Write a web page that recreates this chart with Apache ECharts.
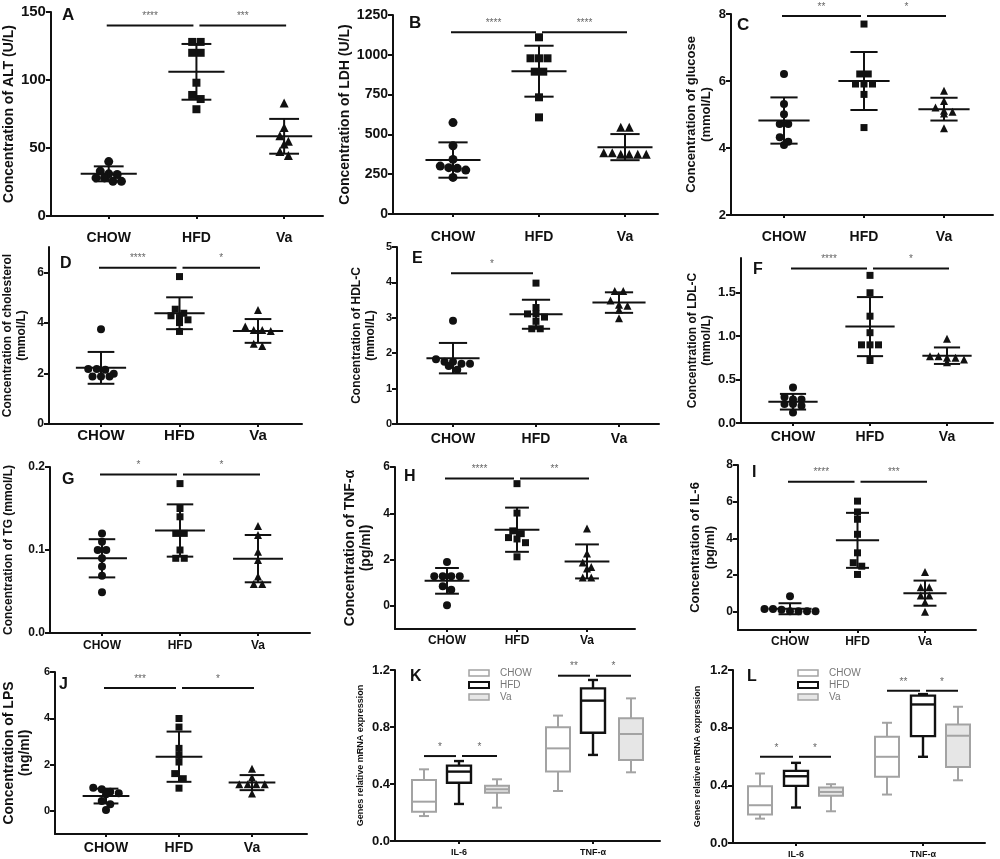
<!DOCTYPE html>
<html>
<head>
<meta charset="utf-8">
<script src="https://cdn.jsdelivr.net/npm/echarts@6/dist/echarts.min.js"></script>
<style>
html, body { margin: 0; padding: 0; background: #fff; }
#main { width: 1000px; height: 859px; }
</style>
</head>
<body>
<div id="main"></div>
<script>
var groups = ['CHOW', 'HFD', 'Va'];
var genes = ['IL-6', 'TNF-α'];

// A - ALT (U/L)
var altChow = [40, 30.5, 28, 33, 31, 25.5, 25.5, 28];
var altHfd = [128, 128, 120, 120, 98, 89, 86, 78.5];
var altVa = [83, 65, 59, 55, 53, 47.5, 44.5];
var altMean = [31, 106, 58.6];
var altSd = [5.5, 20.5, 12.8];
var altSig = [[0, 1, 140, '****'], [1, 2, 140, '***']];

// B - LDH (U/L)
var ldhChow = [574, 429, 343, 301, 287, 291, 276, 230];
var ldhHfd = [1110, 978, 978, 978, 894, 894, 733, 607];
var ldhVa = [545, 545, 385, 375, 375, 375, 375, 385];
var ldhMean = [339, 897, 420];
var ldhSd = [111, 160, 82];
var ldhSig = [[0, 1, 1141, '****'], [1, 2, 1141, '****']];

// C - glucose
var gluChow = [6.21, 5.31, 5.01, 4.72, 4.72, 4.32, 4.09, 4.19];
var gluHfd = [7.70, 6.21, 6.21, 5.91, 5.91, 5.91, 5.60, 4.61];
var gluVa = [5.71, 5.40, 5.21, 5.11, 5.03, 5.08, 4.59];
var gluMean = [4.82, 6.0, 5.16];
var gluSd = [0.69, 0.865, 0.34];
var gluSig = [[0, 1, 7.94, '**'], [1, 2, 7.94, '*']];

// D - cholesterol
var cholChow = [3.75, 2.15, 2.18, 2.18, 1.88, 1.88, 1.88, 1.99];
var cholHfd = [5.83, 4.54, 4.38, 4.28, 4.21, 4.12, 4.01, 3.66];
var cholVa = [4.51, 3.86, 3.72, 3.68, 3.72, 3.08, 3.17];
var cholMean = [2.22, 4.38, 3.68];
var cholSd = [0.63, 0.63, 0.47];
var cholSig = [[0, 1, 6.18, '****'], [1, 2, 6.18, '*']];

// E - HDL-C
var hdlChow = [2.92, 1.76, 1.70, 1.83, 1.53, 1.64, 1.70, 1.76];
var hdlHfd = [3.98, 3.29, 3.11, 3.11, 2.90, 3.02, 2.69, 2.69];
var hdlVa = [3.76, 3.76, 3.49, 3.37, 3.34, 3.23, 2.99];
var hdlMean = [1.86, 3.10, 3.43];
var hdlSd = [0.43, 0.41, 0.29];
var hdlSig = [[0, 1, 4.26, '*']];

// F - LDL-C
var ldlChow = [0.41, 0.30, 0.27, 0.27, 0.22, 0.22, 0.20, 0.12];
var ldlHfd = [1.70, 1.50, 1.23, 1.04, 0.90, 0.90, 0.90, 0.72];
var ldlVa = [0.97, 0.77, 0.75, 0.77, 0.73, 0.75, 0.70];
var ldlMean = [0.245, 1.11, 0.775];
var ldlSd = [0.09, 0.34, 0.095];
var ldlSig = [[0, 1, 1.78, '****'], [1, 2, 1.78, '*']];

// G - TG
var tgChow = [0.120, 0.110, 0.100, 0.100, 0.090, 0.080, 0.069, 0.049];
var tgHfd = [0.180, 0.150, 0.140, 0.120, 0.120, 0.100, 0.090, 0.090];
var tgVa = [0.129, 0.118, 0.098, 0.088, 0.068, 0.059, 0.059];
var tgMean = [0.090, 0.1235, 0.0896];
var tgSd = [0.023, 0.0315, 0.0285];
var tgSig = [[0, 1, 0.191, '*'], [1, 2, 0.191, '*']];

// H - TNF-a
var tnfChow = [1.90, 1.28, 1.28, 1.28, 1.28, 0.85, 0.70, 0.03];
var tnfHfd = [5.28, 4.01, 3.24, 3.12, 2.95, 2.89, 2.73, 2.12];
var tnfVa = [3.34, 2.26, 1.87, 1.68, 1.61, 1.22, 1.22];
var tnfMean = [1.08, 3.29, 1.92];
var tnfSd = [0.555, 0.955, 0.735];
var tnfSig = [[0, 1, 5.5, '****'], [1, 2, 5.5, '**']];

// I - IL-6
var il6Chow = [0.84, 0.15, 0.02, 0.02, 0.02, 0.02, 0.15, 0.11];
var il6Hfd = [6.03, 5.44, 5.04, 4.22, 3.21, 2.67, 2.48, 2.03];
var il6Va = [2.16, 1.33, 1.33, 0.88, 0.88, 0.51, 0.0];
var il6Mean = [0.16, 3.89, 1.01];
var il6Sd = [0.30, 1.50, 0.685];
var il6Sig = [[0, 1, 7.09, '****'], [1, 2, 7.09, '***']];

// J - LPS
var lpsChow = [1.00, 0.93, 0.83, 0.72, 0.76, 0.43, 0.29, 0.04];
var lpsHfd = [3.99, 3.62, 2.70, 2.40, 2.11, 1.61, 1.39, 0.98];
var lpsVa = [1.82, 1.44, 1.15, 1.15, 1.15, 1.15, 0.75];
var lpsMean = [0.64, 2.34, 1.22];
var lpsSd = [0.32, 1.085, 0.325];
var lpsSig = [[0, 1, 5.31, '***'], [1, 2, 5.31, '*']];

// K / L - mRNA boxes: [min, q1, median, q3, max] for IL-6, TNF-a
var kChow = [[0.175, 0.206, 0.276, 0.428, 0.503], [0.351, 0.487, 0.650, 0.798, 0.880]];
var kHfd = [[0.260, 0.409, 0.487, 0.529, 0.561], [0.604, 0.760, 0.985, 1.071, 1.130]];
var kVa = [[0.234, 0.339, 0.363, 0.388, 0.433], [0.482, 0.568, 0.751, 0.861, 1.001]];
var kSig = [[0, 0, 1, 0.596, '*'], [0, 1, 2, 0.596, '*'], [1, 0, 1, 1.16, '**'], [1, 1, 2, 1.16, '*']];
var lChow = [[0.169, 0.197, 0.262, 0.394, 0.482], [0.336, 0.459, 0.598, 0.737, 0.834]];
var lHfd = [[0.246, 0.396, 0.463, 0.500, 0.556], [0.598, 0.741, 0.961, 1.022, 1.033]];
var lVa = [[0.220, 0.327, 0.354, 0.385, 0.408], [0.435, 0.528, 0.744, 0.822, 0.945]];
var lSig = [[0, 0, 1, 0.598, '*'], [0, 1, 2, 0.598, '*'], [1, 0, 1, 1.056, '**'], [1, 1, 2, 1.056, '*']];

var FONT = '"Liberation Sans", Arial, sans-serif';
var INK = '#111';

// layout of each dot-plot panel: box = [left, top, right, bottom] in px
var panels = [
    {id: 'A', pts: [altChow, altHfd, altVa], mean: altMean, sd: altSd, sig: altSig,
        name: 'Concentration of ALT (U/L)', box: [50, 12, 323, 216], cat0: 108, spacing: 88,
        y: [0, 150], ticks: [0, 50, 100, 150], dec: 0, tickFont: 15, catFont: 14, catMargin: 15,
        nameFont: 14, nameGap: 30, sym: 9, letter: [62, 7, 17]},
    {id: 'B', pts: [ldhChow, ldhHfd, ldhVa], mean: ldhMean, sd: ldhSd, sig: ldhSig,
        name: 'Concentration of LDH (U/L)', box: [393, 15, 658, 214], cat0: 453, spacing: 86,
        y: [0, 1250], ticks: [0, 250, 500, 750, 1000, 1250], dec: 0, tickFont: 14, catFont: 14, catMargin: 16,
        nameFont: 14, nameGap: 40, sym: 9, letter: [409, 15, 17]},
    {id: 'C', pts: [gluChow, gluHfd, gluVa], mean: gluMean, sd: gluSd, sig: gluSig,
        name: 'Concentration of glucose\n(mmol/L)', box: [731, 14, 993, 215], cat0: 784, spacing: 80,
        y: [2, 8], ticks: [2, 4, 6, 8], dec: 0, tickFont: 13, catFont: 14, catMargin: 15,
        nameFont: 13, nameGap: 17, sym: 8, letter: [737, 17, 17]},
    {id: 'D', pts: [cholChow, cholHfd, cholVa], mean: cholMean, sd: cholSd, sig: cholSig,
        name: 'Concentration of cholesterol\n(mmol/L)', box: [49, 247, 302, 424], cat0: 101, spacing: 78.5,
        y: [0, 7], ticks: [0, 2, 4, 6], dec: 0, tickFont: 12, catFont: 15, catMargin: 4,
        nameFont: 12, nameGap: 20, sym: 8, letter: [60, 256, 16]},
    {id: 'E', pts: [hdlChow, hdlHfd, hdlVa], mean: hdlMean, sd: hdlSd, sig: hdlSig,
        name: 'Concentration of HDL-C\n(mmol/L)', box: [397, 247, 659, 424], cat0: 453, spacing: 83,
        y: [0, 5], ticks: [0, 1, 2, 3, 4, 5], dec: 0, tickFont: 11, catFont: 14, catMargin: 8,
        nameFont: 12, nameGap: 19, sym: 8, letter: [412, 251, 16]},
    {id: 'F', pts: [ldlChow, ldlHfd, ldlVa], mean: ldlMean, sd: ldlSd, sig: ldlSig,
        name: 'Concentration of LDL-C\n(mmol/L)', box: [741, 258, 993, 423], cat0: 793, spacing: 77,
        y: [0, 1.9], ticks: [0, 0.5, 1, 1.5], dec: 1, tickFont: 13, catFont: 14, catMargin: 7,
        nameFont: 12, nameGap: 27, sym: 8, letter: [753, 262, 16]},
    {id: 'G', pts: [tgChow, tgHfd, tgVa], mean: tgMean, sd: tgSd, sig: tgSig,
        name: 'Concentration of TG (mmol/L)', box: [50, 467, 310, 633], cat0: 102, spacing: 78,
        y: [0, 0.2], ticks: [0, 0.1, 0.2], dec: 1, tickFont: 12, catFont: 12, catMargin: 7,
        nameFont: 12, nameGap: 34, sym: 8, letter: [62, 472, 16]},
    {id: 'H', pts: [tnfChow, tnfHfd, tnfVa], mean: tnfMean, sd: tnfSd, sig: tnfSig,
        name: 'Concentration of TNF-α\n(pg/ml)', box: [395, 467, 635, 629], cat0: 447, spacing: 70,
        y: [-1, 6], ticks: [0, 2, 4, 6], dec: 0, tickFont: 12, catFont: 12, catMargin: 6,
        nameFont: 14, nameGap: 21, sym: 8, letter: [404, 469, 16]},
    {id: 'I', pts: [il6Chow, il6Hfd, il6Va], mean: il6Mean, sd: il6Sd, sig: il6Sig,
        name: 'Concentration of IL-6\n(pg/ml)', box: [738, 465, 976, 630], cat0: 790, spacing: 67.5,
        y: [-1, 8], ticks: [0, 2, 4, 6, 8], dec: 0, tickFont: 12, catFont: 12, catMargin: 6,
        nameFont: 13, nameGap: 20, sym: 8, letter: [752, 465, 16]},
    {id: 'J', pts: [lpsChow, lpsHfd, lpsVa], mean: lpsMean, sd: lpsSd, sig: lpsSig,
        name: 'Concentration of LPS\n(ng/ml)', box: [55, 672, 307, 834], cat0: 106, spacing: 73,
        y: [-1, 6], ticks: [0, 2, 4, 6], dec: 0, tickFont: 11, catFont: 14, catMargin: 7,
        nameFont: 14, nameGap: 22, sym: 8, letter: [59, 677, 16]}
];

var boxPanels = [
    {id: 'K', boxes: [kChow, kHfd, kVa], sig: kSig, box: [395, 670, 660, 841], cat0: 459, spacing: 134,
        offs: [-35, 0, 38], legend: [468, 668], nameGap: 29, letter: [410, 669, 16]},
    {id: 'L', boxes: [lChow, lHfd, lVa], sig: lSig, box: [733, 670, 985, 843], cat0: 796, spacing: 127,
        offs: [-36, 0, 35], legend: [797, 668], nameGap: 30, letter: [747, 669, 16]}
];

var boxStyles = [
    {fill: '#fff', stroke: '#a3a3a3', lw: 2},
    {fill: '#fff', stroke: '#111', lw: 2.4},
    {fill: '#e6e6e6', stroke: '#a3a3a3', lw: 2}
];

var shapes = ['circle', 'rect', 'triangle'];
var grids = [], xAxes = [], yAxes = [], series = [], titles = [], legends = [];

// spread points that share nearly the same value side by side (like a dot plot)
function swarm(vals, gi, thr, step) {
    var s = vals.slice().sort(function (a, b) { return b - a; });
    var out = [], i = 0;
    while (i < s.length) {
        var j = i;
        while (j + 1 < s.length && s[i] - s[j + 1] < thr) j++;
        var n = j - i + 1;
        for (var k = 0; k < n; k++) out.push([gi + (k - (n - 1) / 2) * step, s[i + k]]);
        i = j + 1;
    }
    return out;
}

function line(x1, y1, x2, y2, color, w) {
    return {type: 'line', shape: {x1: x1, y1: y1, x2: x2, y2: y2}, style: {stroke: color, lineWidth: w}};
}

function addAxes(idx, p, cats, y, ticks, dec, f) {
    var left = p.box[0], top = p.box[1], right = p.box[2], bottom = p.box[3];
    grids.push({left: left, top: top, width: right - left, height: bottom - top});
    var catIdx = cats.map(function (c, k) { return k; });
    xAxes.push({
        gridIndex: idx, type: 'value',
        min: -(p.cat0 - left) / p.spacing, max: (right - p.cat0) / p.spacing,
        splitLine: {show: false},
        axisLine: {onZero: false, lineStyle: {color: INK, width: 2}},
        axisTick: {customValues: catIdx, length: 3, lineStyle: {color: INK, width: 2}},
        axisLabel: {customValues: catIdx, formatter: function (v) { return cats[Math.round(v)]; },
            color: INK, fontWeight: 'bold', fontSize: f.catFont, margin: f.catMargin, fontFamily: FONT}
    });
    yAxes.push({
        gridIndex: idx, type: 'value', min: y[0], max: y[1],
        splitLine: {show: false},
        axisLine: {show: true, onZero: false, lineStyle: {color: INK, width: 2}},
        axisTick: {show: true, customValues: ticks, length: 5, lineStyle: {color: INK, width: 2}},
        axisLabel: {customValues: ticks, formatter: function (v) { return v.toFixed(dec); },
            color: INK, fontWeight: 'bold', fontSize: f.tickFont, margin: 5, fontFamily: FONT},
        name: f.name, nameLocation: 'middle', nameRotate: 90, nameGap: f.nameGap,
        nameTextStyle: {color: INK, fontWeight: 'bold', fontSize: f.nameFont, lineHeight: Math.round(f.nameFont * 1.15),
            fontFamily: FONT, align: 'center'}
    });
    titles.push({text: p.id, left: p.letter[0], top: p.letter[1], padding: 0,
        textStyle: {fontSize: p.letter[2], fontWeight: 'bold', color: INK, fontFamily: FONT}});
}

function starText(x, y, label) {
    return {type: 'text', x: x, y: y - 9, style: {text: label, fill: '#666', fontSize: 10, fontFamily: FONT,
        align: 'center', verticalAlign: 'middle'}};
}

panels.forEach(function (p, i) {
    addAxes(i, p, groups, p.y, p.ticks, p.dec, p);
    var h = p.box[3] - p.box[1];
    var thr = (p.y[1] - p.y[0]) * 6 / h;
    var step = 8.5 / p.spacing;

    p.pts.forEach(function (vals, gi) {
        series.push({
            type: 'scatter', name: p.id + ' ' + groups[gi], xAxisIndex: i, yAxisIndex: i,
            symbol: shapes[gi], symbolSize: gi === 1 ? p.sym - 1 : p.sym, silent: true, z: 3,
            itemStyle: {color: INK, opacity: 1},
            data: swarm(vals, gi, thr, step)
        });
    });

    // mean line with SD whiskers
    series.push({
        type: 'custom', name: p.id + ' mean', xAxisIndex: i, yAxisIndex: i, silent: true, z: 4,
        encode: {x: 0, y: 1},
        data: p.mean.map(function (m, gi) { return [gi, m, p.sd[gi]]; }),
        renderItem: function (params, api) {
            var gi = api.value(0), m = api.value(1), s = api.value(2);
            var c = api.coord([gi, m]), hi = api.coord([gi, m + s]), lo = api.coord([gi, m - s]);
            var u = api.size([1, 0])[0];
            var mw = 0.32 * u, cw = 0.17 * u;
            return {type: 'group', children: [
                line(c[0] - mw, c[1], c[0] + mw, c[1], INK, 2),
                line(hi[0], hi[1], lo[0], lo[1], INK, 2),
                line(hi[0] - cw, hi[1], hi[0] + cw, hi[1], INK, 2),
                line(lo[0] - cw, lo[1], lo[0] + cw, lo[1], INK, 2)
            ]};
        }
    });

    // significance bars
    series.push({
        type: 'custom', name: p.id + ' sig', xAxisIndex: i, yAxisIndex: i, silent: true, z: 4,
        encode: {x: [0, 1], y: 2},
        data: p.sig.map(function (s) { return [s[0], s[1], s[2]]; }),
        renderItem: function (params, api) {
            var a = api.value(0), b = api.value(1), lv = api.value(2);
            var pa = api.coord([a, lv]), pb = api.coord([b, lv]);
            var x1 = pa[0] + (a === 1 ? 3 : -2), x2 = pb[0] - (b === 1 ? 3 : -2);
            return {type: 'group', children: [
                line(x1, pa[1], x2, pa[1], INK, 2),
                starText((x1 + x2) / 2, pa[1], p.sig[params.dataIndex][3])
            ]};
        }
    });
});

boxPanels.forEach(function (bp, k) {
    var i = panels.length + k;
    addAxes(i, bp, genes, [0, 1.2], [0, 0.4, 0.8, 1.2], 1, {
        catFont: 9, catMargin: 7, tickFont: 13, name: 'Genes relative mRNA expression',
        nameFont: 9, nameGap: bp.nameGap
    });

    bp.boxes.forEach(function (rows, gi) {
        var st = boxStyles[gi];
        series.push({
            type: 'custom', name: groups[gi], xAxisIndex: i, yAxisIndex: i, silent: true, z: 3,
            itemStyle: {color: st.fill, borderColor: st.stroke},
            encode: {x: 0, y: [1, 2, 3, 4, 5]},
            data: rows.map(function (r, ci) { return [ci].concat(r); }),
            renderItem: function (params, api) {
                var ci = api.value(0);
                var x = api.coord([ci, 0])[0] + bp.offs[gi];
                var y = [1, 2, 3, 4, 5].map(function (d) { return api.coord([ci, api.value(d)])[1]; });
                var hw = 12, cap = 5;
                return {type: 'group', children: [
                    line(x, y[3], x, y[4], st.stroke, st.lw),
                    line(x, y[1], x, y[0], st.stroke, st.lw),
                    line(x - cap, y[4], x + cap, y[4], st.stroke, st.lw),
                    line(x - cap, y[0], x + cap, y[0], st.stroke, st.lw),
                    {type: 'rect', shape: {x: x - hw, y: y[3], width: hw * 2, height: y[1] - y[3]},
                        style: {fill: st.fill, stroke: st.stroke, lineWidth: st.lw}},
                    line(x - hw, y[2], x + hw, y[2], st.stroke, st.lw)
                ]};
            }
        });
    });

    series.push({
        type: 'custom', name: bp.id + ' sig', xAxisIndex: i, yAxisIndex: i, silent: true, z: 4,
        encode: {x: 0, y: 3},
        data: bp.sig.map(function (s) { return [s[0], s[1], s[2], s[3]]; }),
        renderItem: function (params, api) {
            var ci = api.value(0), a = api.value(1), b = api.value(2), lv = api.value(3);
            var c = api.coord([ci, lv]);
            var x1 = c[0] + bp.offs[a] + (a === 1 ? 3 : 0), x2 = c[0] + bp.offs[b] - (b === 1 ? 3 : 0);
            return {type: 'group', children: [
                line(x1, c[1], x2, c[1], INK, 2),
                starText((x1 + x2) / 2, c[1], bp.sig[params.dataIndex][4])
            ]};
        }
    });

    legends.push({
        left: bp.legend[0], top: bp.legend[1], orient: 'vertical', padding: 0,
        itemWidth: 20, itemHeight: 6, itemGap: 2, selectedMode: false,
        textStyle: {color: '#777', fontSize: 10, fontFamily: FONT, padding: [0, 0, 0, 6]},
        data: groups.map(function (g, gi) {
            return {name: g, icon: 'rect', itemStyle: {color: boxStyles[gi].fill,
                borderColor: boxStyles[gi].stroke, borderWidth: gi === 1 ? 2 : 1.5}};
        })
    });
});

var myChart = echarts.init(document.getElementById('main'));
myChart.setOption({
    backgroundColor: '#fff',
    animation: false,
    textStyle: {fontFamily: FONT},
    title: titles,
    legend: legends,
    grid: grids,
    xAxis: xAxes,
    yAxis: yAxes,
    series: series
});
</script>
</body>
</html>
